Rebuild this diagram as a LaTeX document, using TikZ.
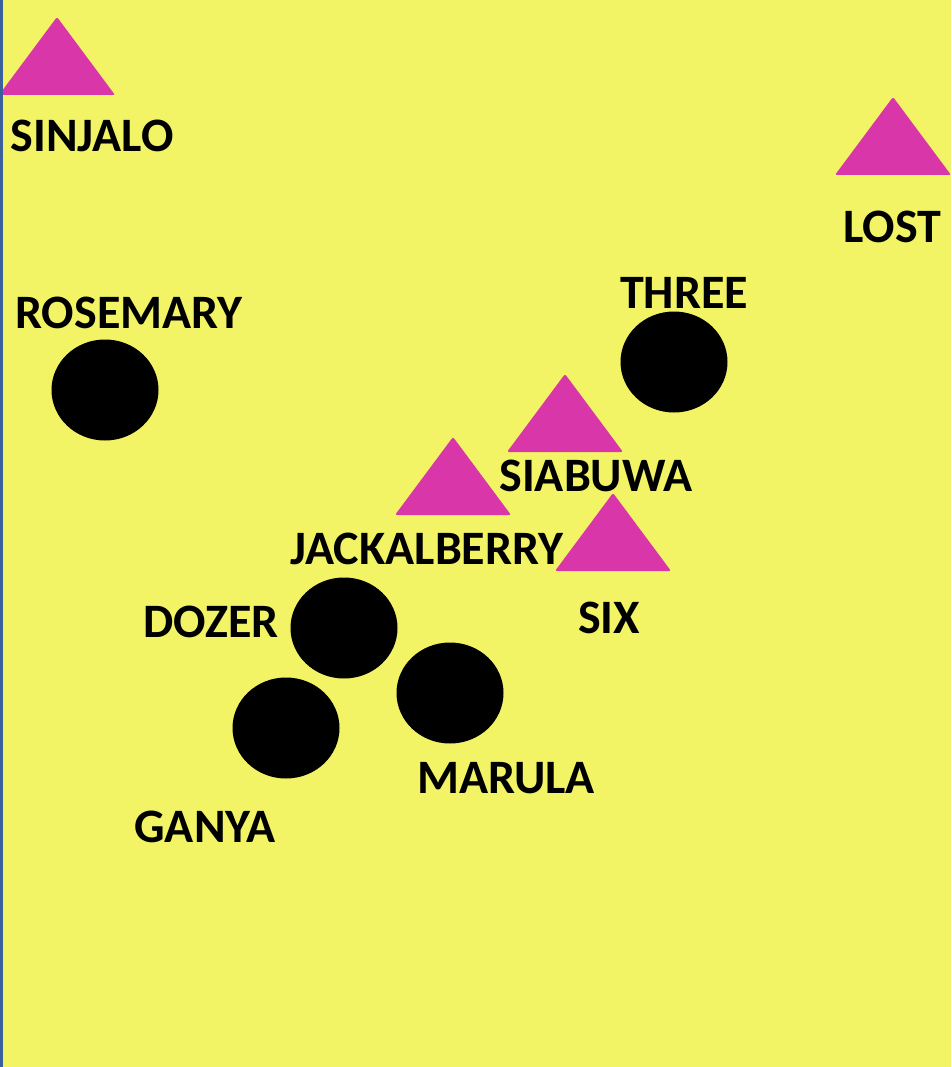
\documentclass[tikz,border=0pt]{standalone}
\usepackage{fontspec}
\setmainfont{Carlito}
\usetikzlibrary{positioning, shapes.geometric}
\definecolor{bgYellow}{RGB}{242,244,102}
\definecolor{edgeBlue}{RGB}{58,95,154}
\definecolor{siteMagenta}{RGB}{217,54,170}
\tikzset{
  site/.pic={\fill[siteMagenta, rounded corners=2pt] (0,-39) -- (58,39) -- (-58,39) -- cycle;},
  den/.style={ellipse, fill=black, draw=none, minimum width=107pt, minimum height=101pt, inner sep=0pt},
  lbl/.style={font=\fontsize{48}{56}\bfseries\selectfont, anchor=base, inner sep=0pt},
}
\begin{document}
\begin{tikzpicture}[x=1pt, y=-1pt]
  % background and left edge
  \fill[bgYellow] (0,0) rectangle (951,1067);
  \useasboundingbox (0,0) rectangle (951,1067);
  % ===== triangles =====
  \pic at (57,56)  {site};
  \pic at (893,136) {site};
  \pic at (565,413) {site};
  \pic at (453,476) {site};
  \pic at (613,532) {site};
  % ===== circles =====
  \node[den] (rosemary) at (105,390) {};
  \node[den] (three)    at (674,362) {};
  \node[den] (dozer)    at (344,628) {};
  \node[den] (marula)   at (450,693) {};
  \node[den] (ganya)    at (286,728) {};
  % ===== labels =====
  \node[lbl] (lSinjalo)  at (92,152)  {SINJALO};
  \node[lbl] (lLost)     at (892,243) {LOST};
  \node[lbl] (lRosemary) at (129,328) {ROSEMARY};
  \node[lbl] (lThree)    at (684,308) {THREE};
  \node[lbl] (lSiabuwa)  at (596,491) {SIABUWA};
  \node[lbl] (lJackal)   at (427,564) {JACKALBERRY};
  \node[lbl] (lDozer)    at (211,637) {DOZER};
  \node[lbl] (lSix)      at (609,633) {SIX};
  \node[lbl] (lMarula)   at (506,793) {MARULA};
  \node[lbl] (lGanya)    at (205,842) {GANYA};
  \fill[edgeBlue] (0,0) rectangle (3,1067);
\end{tikzpicture}
\end{document}
